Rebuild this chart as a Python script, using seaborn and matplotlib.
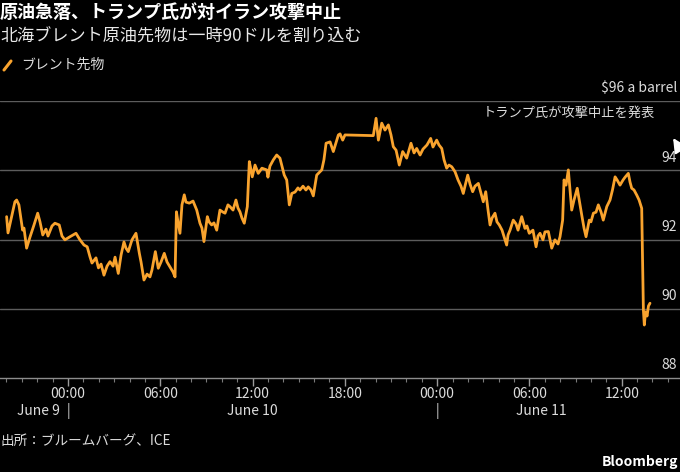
import numpy as np
import pandas as pd
import matplotlib
matplotlib.use("Agg")
import matplotlib.pyplot as plt
import seaborn as sns
from matplotlib.lines import Line2D

# Brent futures, hours counted from June 10 00:00
hours = [
    -3.99, -3.90, -3.64, -3.45, -3.34, -3.19, -2.95, -2.86, -2.69, -2.47,
    -2.21, -1.97, -1.82, -1.64, -1.43, -1.30, -1.04, -0.85, -0.57, -0.39,
    -0.20, 0.13, 0.52, 0.78, 1.04, 1.25, 1.43, 1.56, 1.82, 1.98,
    2.15, 2.34, 2.54, 2.73, 2.93, 3.06, 3.27, 3.45, 3.64, 3.77,
    3.92, 4.16, 4.42, 4.64, 4.75, 4.94, 5.14, 5.33, 5.46, 5.68,
    5.87, 6.05, 6.26, 6.44, 6.63, 6.83, 6.96, 7.05, 7.15, 7.28,
    7.41, 7.56, 7.67, 7.89, 8.13, 8.37, 8.58, 8.71, 8.84, 9.06,
    9.17, 9.34, 9.49, 9.67, 9.88, 10.08, 10.21, 10.40, 10.53, 10.73,
    10.92, 11.05, 11.18, 11.31, 11.46, 11.66, 11.79, 11.90, 11.98, 12.16,
    12.37, 12.61, 12.92, 13.00, 13.13, 13.35, 13.57, 13.78, 13.91, 14.06,
    14.22, 14.30, 14.39, 14.55, 14.76, 14.95, 15.08, 15.28, 15.47, 15.62,
    15.80, 15.95, 16.17, 16.50, 16.64, 16.78, 17.04, 17.25, 17.36, 17.58,
    17.69, 17.86, 18.01, 19.85, 20.03, 20.18, 20.40, 20.61, 20.83, 21.00,
    21.15, 21.33, 21.54, 21.76, 22.02, 22.30, 22.50, 22.67, 22.89, 23.08,
    23.34, 23.58, 23.73, 23.97, 24.12, 24.30, 24.45, 24.62, 24.77, 24.95,
    25.16, 25.36, 25.55, 25.70, 25.81, 25.99, 26.14, 26.31, 26.46, 26.68,
    26.85, 27.00, 27.16, 27.31, 27.44, 27.57, 27.76, 27.89, 28.04, 28.22,
    28.35, 28.52, 28.61, 28.74, 28.95, 29.13, 29.26, 29.50, 29.71, 29.84,
    29.99, 30.23, 30.43, 30.56, 30.69, 30.88, 31.01, 31.23, 31.45, 31.66,
    31.86, 31.99, 32.16, 32.25, 32.38, 32.53, 32.64, 32.75, 32.90, 33.11,
    33.26, 33.40, 33.55, 33.68, 33.89, 34.00, 34.16, 34.33, 34.48, 34.66,
    34.80, 35.03, 35.24, 35.40, 35.57, 35.70, 35.89, 36.09, 36.22, 36.43,
    36.54, 36.65, 36.80, 36.98, 37.13, 37.30, 37.41, 37.47, 37.55, 37.65,
    37.74, 37.84,
]
prices = [
    92.66, 92.19, 92.71, 93.09, 93.14, 93.00, 92.27, 92.33, 91.75, 92.07,
    92.42, 92.76, 92.51, 92.13, 92.30, 92.10, 92.39, 92.47, 92.42, 92.10,
    91.99, 92.08, 92.18, 91.99, 91.84, 91.79, 91.50, 91.32, 91.47, 91.18,
    91.29, 90.97, 91.23, 91.36, 91.23, 91.49, 91.02, 91.55, 91.93, 91.75,
    91.65, 91.99, 92.18, 91.60, 91.35, 90.83, 91.00, 90.92, 91.12, 91.65,
    91.17, 91.35, 91.60, 91.35, 91.21, 91.06, 90.92, 92.80, 92.51, 92.18,
    93.00, 93.29, 93.08, 93.05, 93.11, 92.85, 92.47, 92.33, 91.94, 92.66,
    92.51, 92.42, 92.48, 92.27, 92.85, 92.79, 92.76, 93.00, 92.95, 92.85,
    93.14, 92.91, 92.80, 92.62, 92.47, 92.95, 94.25, 94.01, 93.81, 94.15,
    93.91, 94.06, 94.01, 93.80, 94.12, 94.30, 94.44, 94.35, 94.12, 93.86,
    93.72, 93.37, 93.00, 93.33, 93.37, 93.49, 93.43, 93.54, 93.43, 93.52,
    93.43, 93.26, 93.86, 94.01, 94.30, 94.78, 94.82, 94.54, 94.70, 95.02,
    95.05, 94.87, 95.02, 95.00, 95.50, 94.87, 95.36, 95.16, 95.31, 95.02,
    94.68, 94.58, 94.15, 94.54, 94.35, 94.78, 94.50, 94.63, 94.44, 94.61,
    94.73, 94.92, 94.67, 94.87, 94.73, 94.63, 94.30, 94.06, 94.15, 94.10,
    93.96, 93.72, 93.54, 93.33, 93.54, 93.86, 93.60, 93.38, 93.54, 93.62,
    93.34, 93.09, 93.38, 92.85, 92.42, 92.62, 92.76, 92.51, 92.42, 92.27,
    92.08, 91.84, 92.13, 92.27, 92.56, 92.45, 92.27, 92.66, 92.32, 92.39,
    92.18, 92.27, 91.79, 92.10, 92.18, 91.99, 92.22, 92.23, 91.75, 91.99,
    91.87, 92.08, 92.56, 93.72, 93.57, 94.01, 93.43, 92.85, 93.14, 93.48,
    93.08, 92.71, 92.33, 92.08, 92.56, 92.51, 92.76, 92.79, 93.00, 92.79,
    92.56, 92.95, 93.14, 93.43, 93.81, 93.72, 93.57, 93.72, 93.80, 93.91,
    93.66, 93.48, 93.43, 93.28, 93.14, 92.90, 89.96, 89.53, 89.91, 89.79,
    90.08, 90.16,
]

y_ticks = [88, 90, 92, 94, 96]
y_labels = ["88", "90", "92", "94", "$96 a barrel"]
x_ticks = [0, 6, 12, 18, 24, 30, 36]
x_labels = ["00:00", "06:00", "12:00", "18:00", "00:00", "06:00", "12:00"]
day_labels = ["June 9", "|", "June 10", "|", "June 11"]
day_pos = [-0.5, 0, 12, 24, 30.8]
day_align = ["right", "center", "center", "center", "center"]

title = "原油急落、トランプ氏が対イラン攻撃中止"
subtitle = "北海ブレント原油先物は一時90ドルを割り込む"
series_name = "ブレント先物"
note = "トランプ氏が攻撃中止を発表"
source = "出所：ブルームバーグ、ICE"

df = pd.DataFrame({"hour": hours, "price": prices})

ORANGE = "#f9a32e"
GRID = "#5c5c5c"
TXT = "#dcdcdc"

sns.set_theme(style="dark")
plt.rcParams["font.family"] = ["Liberation Sans Narrow", "Noto Sans CJK JP", "DejaVu Sans"]
plt.rcParams["axes.unicode_minus"] = False

W, H = 680, 472
fig = plt.figure(figsize=(W / 100, H / 100), dpi=100, facecolor="black")
ax = fig.add_axes([0, (H - 378) / H, 1, 277 / H])
ax.set_facecolor("black")


def fx(px):
    return px / W


def fy(py):
    return 1 - py / H


sns.lineplot(data=df, x="hour", y="price", color=ORANGE, lw=2.0,
             estimator=None, ax=ax, legend=False, zorder=3)

ax.set_xlim(-4.42, 39.79)
ax.set_ylim(88, 96)
for s in ["top", "left", "right"]:
    ax.spines[s].set_visible(False)
ax.spines["bottom"].set_color("#8c8c8c")
ax.spines["bottom"].set_linewidth(1.0)
ax.grid(False)
for v in y_ticks[1:]:
    ax.axhline(v, color=GRID, lw=1.0, zorder=1)

ax.set_yticks([])
for v, lab in zip(y_ticks, y_labels):
    ax.annotate(lab, xy=(1, v), xycoords=("axes fraction", "data"),
                xytext=(-2, 4), textcoords="offset points",
                ha="right", va="bottom", color=TXT, fontsize=10)

ax.set_xticks(x_ticks)
ax.set_xticklabels(x_labels)
ax.set_xticks(np.arange(-4, 40, 1), minor=True)
ax.tick_params(axis="x", which="major", length=6, width=1, color="#9a9a9a",
               pad=0.5, labelcolor=TXT, labelsize=10, bottom=True)
ax.tick_params(axis="x", which="minor", length=3, width=0.8, color="#7a7a7a",
               bottom=True)
ax.set_xlabel("")
ax.set_ylabel("")

for lab, pos, ha in zip(day_labels, day_pos, day_align):
    ax.text(pos, -0.118, lab, transform=ax.get_xaxis_transform(),
            ha=ha, va="center", color=TXT, fontsize=10)

# annotation + arrow
ax.text(fx(655), 1 - (113 - 101) / 277, note, transform=ax.transAxes,
        ha="right", va="center", color=TXT, fontsize=9.5)
ax.annotate("", xy=(39.34, 94.93), xytext=(40.6, 94.05),
            arrowprops=dict(arrowstyle="-|>,head_length=0.7,head_width=0.35",
                            color="white", lw=1.6, shrinkA=0, shrinkB=0),
            annotation_clip=False)

# header
fig.text(0.0, fy(12), title, color="white", fontsize=13, fontweight="bold",
         ha="left", va="center")
fig.text(0.0, fy(37), subtitle, color="#e8e8e8", fontsize=12.3,
         ha="left", va="center")
fig.add_artist(Line2D([fx(4), fx(11)], [fy(70), fy(61)], color=ORANGE,
                      lw=2.2, transform=fig.transFigure))
fig.text(fx(21), fy(65), series_name, color=TXT, fontsize=10,
         ha="left", va="center")

# footer
fig.text(0.0, fy(441), source, color=TXT, fontsize=9.8, ha="left", va="center")
fig.text(fx(678), fy(462), "Bloomberg", color="white", fontsize=10,
         fontweight="bold", ha="right", va="center")

fig.savefig("out.png", dpi=100, facecolor="black")
